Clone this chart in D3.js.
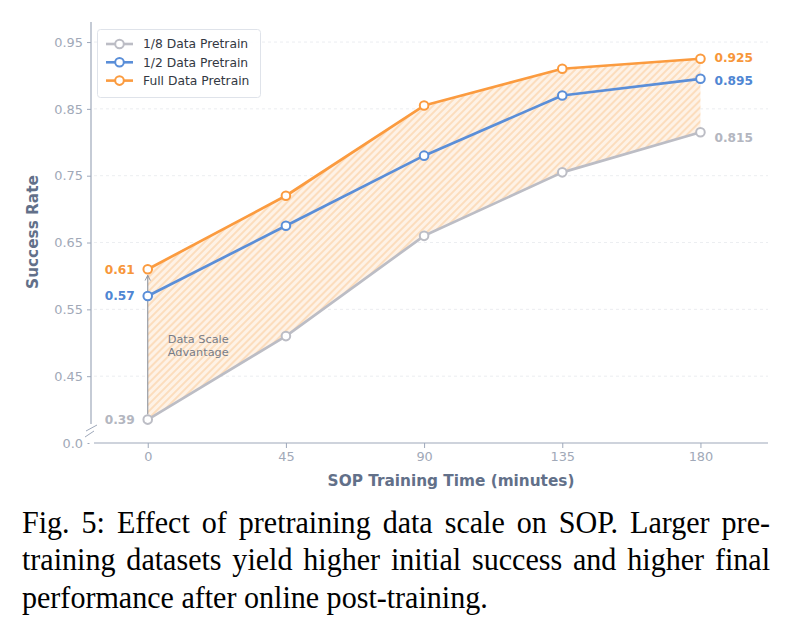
<!DOCTYPE html>
<html>
<head>
<meta charset="utf-8">
<script src="https://cdn.jsdelivr.net/npm/d3@7"></script>
<style>
  html, body { margin: 0; padding: 0; background: #ffffff; }
  svg { display: block; }
</style>
</head>
<body>
<svg id="chart" width="789" height="629"></svg>
<script>
// ---------------- data ----------------
const minutes = [0, 45, 90, 135, 180];
const eighthData = [0.385, 0.51, 0.66, 0.755, 0.815];
const halfData = [0.57, 0.675, 0.78, 0.87, 0.895];
const fullData = [0.61, 0.72, 0.855, 0.91, 0.925];
const seriesNames = ["1/8 Data Pretrain", "1/2 Data Pretrain", "Full Data Pretrain"];
const xTickValues = [0, 45, 90, 135, 180];
const yTickValues = [0.45, 0.55, 0.65, 0.75, 0.85, 0.95];
const yBreakLabel = "0.0";
const xTitle = "SOP Training Time (minutes)";
const yTitle = "Success Rate";
const annotationLines = ["Data Scale", "Advantage"];
const captionLines = [
  "Fig. 5: Effect of pretraining data scale on SOP. Larger pre-",
  "training datasets yield higher initial success and higher final",
  "performance after online post-training."
];

(function () {
// ---------------- styles ----------------
const colors = ["#bcbdc5", "#5a8ed8", "#fb9b3f"];
const labelColors = ["#b3b6c0", "#4f86d3", "#f7963a"];
const axisColor = "#9ea8ba";
const tickTextColor = "#a1a9b8";
const titleColor = "#627089";
const sansFont = "'DejaVu Sans', sans-serif";

const svg = d3.select("#chart");
const pLeft = 94, pRight = 768, pTop = 22, pBottom = 443;

const x = d3.scaleLinear().domain([-17.5, 202]).range([pLeft, pRight]);
const y = d3.scaleLinear().domain([0.35, 0.98]).range([pBottom, pTop]);

// hatch pattern
const defs = svg.append("defs");
const pat = defs.append("pattern")
  .attr("id", "hatch").attr("patternUnits", "userSpaceOnUse")
  .attr("width", 5).attr("height", 5)
  .attr("patternTransform", "rotate(45)");
pat.append("rect").attr("width", 5).attr("height", 5).attr("fill", "#fef2e6");
pat.append("line").attr("x1", 1).attr("y1", 0).attr("x2", 1).attr("y2", 5)
  .attr("stroke", "#fcd8b3").attr("stroke-width", 1.6);

defs.append("marker").attr("id", "arrow")
  .attr("viewBox", "0 0 10 10").attr("refX", 9).attr("refY", 5)
  .attr("markerWidth", 6).attr("markerHeight", 6).attr("orient", "auto")
  .append("path").attr("d", "M1,1 L9,5 L1,9").attr("fill", "none")
  .attr("stroke", "#8d939f").attr("stroke-width", 1.4);

// grid
svg.append("g").selectAll("line").data(yTickValues).join("line")
  .attr("x1", pLeft).attr("x2", pRight)
  .attr("y1", d => y(d)).attr("y2", d => y(d))
  .attr("stroke", "#e6e8ec").attr("stroke-width", 0.8)
  .attr("stroke-dasharray", "3,3");

// area between full and 1/8
const rows = minutes.map((m, i) => ({ m, lo: eighthData[i], hi: fullData[i] }));
svg.append("path").datum(rows)
  .attr("d", d3.area().x(d => x(d.m)).y0(d => y(d.lo)).y1(d => y(d.hi)))
  .attr("fill", "url(#hatch)");

// y axis
const yAxis = d3.axisLeft(y)
  .tickValues([0.35].concat(yTickValues))
  .tickFormat(d => d === 0.35 ? yBreakLabel : String(d))
  .tickSize(4).tickPadding(4);
const gy = svg.append("g").attr("transform", `translate(${pLeft - 3},0)`).call(yAxis);
gy.select(".domain").remove();
gy.selectAll(".tick line").attr("stroke", axisColor).attr("stroke-width", 1);
gy.selectAll(".tick").filter(d => d === 0.35).select("line").attr("x2", -1.5).attr("x1", -3.5);
gy.selectAll(".tick text").attr("fill", tickTextColor)
  .style("font-family", sansFont).style("font-size", "12.9px");
svg.append("line").attr("x1", pLeft - 3).attr("x2", pLeft - 3)
  .attr("y1", pTop).attr("y2", y(0.35) - 19)
  .attr("stroke", axisColor).attr("stroke-width", 1.2);
// break marks
[[0, 0], [-1, 6]].forEach(([dx, dy]) => {
  svg.append("line")
    .attr("x1", pLeft - 8 + dx).attr("y1", y(0.35) - 12 + dy)
    .attr("x2", pLeft + 3 + dx * 3).attr("y2", y(0.35) - 18 + dy)
    .attr("stroke", axisColor).attr("stroke-width", 1);
});

// x axis
const xAxis = d3.axisBottom(x).tickValues(xTickValues).tickSize(5).tickPadding(4);
const gx = svg.append("g").attr("transform", `translate(0,${pBottom})`).call(xAxis);
gx.select(".domain").attr("stroke", axisColor).attr("stroke-width", 1.2)
  .attr("d", `M${pLeft},0H${pRight}`);
gx.selectAll(".tick line").attr("stroke", axisColor);
gx.selectAll(".tick text").attr("fill", tickTextColor)
  .style("font-family", sansFont).style("font-size", "12.9px");

// axis titles
svg.append("text").attr("x", 451).attr("y", 486).attr("text-anchor", "middle")
  .attr("fill", titleColor).style("font-family", sansFont)
  .style("font-size", "15.3px").style("font-weight", "bold").text(xTitle);
svg.append("text").attr("transform", "translate(38,232) rotate(-90)")
  .attr("text-anchor", "middle").attr("fill", titleColor)
  .style("font-family", sansFont).style("font-size", "15.3px")
  .style("font-weight", "bold").text(yTitle);

// annotation arrow
svg.append("line")
  .attr("x1", x(0)).attr("x2", x(0))
  .attr("y1", y(eighthData[0]) - 5).attr("y2", y(fullData[0]) + 6)
  .attr("stroke", "#8d939f").attr("stroke-width", 1.1)
  .attr("marker-end", "url(#arrow)");
svg.append("g").selectAll("text").data(annotationLines).join("text")
  .attr("x", x(0) + 20).attr("y", (d, i) => 342.5 + i * 13)
  .attr("fill", "#777c88").style("font-family", sansFont).style("font-size", "11.3px")
  .text(d => d);

// series
const allSeries = [eighthData, halfData, fullData];
const line = d3.line().x((d, i) => x(minutes[i])).y(d => y(d));
allSeries.forEach((s, k) => {
  svg.append("path").datum(s).attr("d", line)
    .attr("fill", "none").attr("stroke", colors[k]).attr("stroke-width", 2.7)
    .attr("stroke-linejoin", "round");
  svg.append("g").selectAll("circle").data(s).join("circle")
    .attr("cx", (d, i) => x(minutes[i])).attr("cy", d => y(d)).attr("r", 4.3)
    .attr("fill", "#ffffff").attr("stroke", colors[k]).attr("stroke-width", 2);
});

// value labels
const endOffsets = [5.5, 1.5, -1.5];
allSeries.forEach((s, k) => {
  svg.append("text").attr("x", x(minutes[0]) - 13).attr("y", y(s[0]))
    .attr("dy", "0.36em").attr("text-anchor", "end").attr("fill", labelColors[k])
    .style("font-family", sansFont).style("font-size", "12.2px").style("font-weight", "bold")
    .text(d3.format(".2f")(s[0]));
  const n = s.length - 1;
  svg.append("text").attr("x", x(minutes[n]) + 14).attr("y", y(s[n]) + endOffsets[k])
    .attr("dy", "0.36em").attr("fill", labelColors[k])
    .style("font-family", sansFont).style("font-size", "12.2px").style("font-weight", "bold")
    .text(d3.format(".3f")(s[n]));
});

// legend
const lg = svg.append("g");
lg.append("rect").attr("x", 97.5).attr("y", 29.5).attr("width", 163).attr("height", 68)
  .attr("rx", 3).attr("fill", "#ffffff").attr("fill-opacity", 0.9)
  .attr("stroke", "#dfe3ea").attr("stroke-width", 1);
seriesNames.forEach((name, k) => {
  const yy = 44 + k * 18.3;
  lg.append("line").attr("x1", 106).attr("x2", 133).attr("y1", yy).attr("y2", yy)
    .attr("stroke", colors[k]).attr("stroke-width", 2.6);
  lg.append("circle").attr("cx", 119.5).attr("cy", yy).attr("r", 4.3)
    .attr("fill", "#ffffff").attr("stroke", colors[k]).attr("stroke-width", 2);
  lg.append("text").attr("x", 143).attr("y", yy).attr("dy", "0.36em")
    .attr("fill", "#333842").style("font-family", sansFont).style("font-size", "12.3px")
    .text(name);
});

// caption (justified, slightly condensed serif)
const capX0 = 22, capX1 = 770, lastLineWidth = 466;
const capG = svg.append("g")
  .style("font-family", "'Liberation Serif', 'Times New Roman', serif")
  .style("font-size", "32.5px").attr("fill", "#000000");
const probe = capG.append("text").text(captionLines[captionLines.length - 1]);
const sx = lastLineWidth / probe.node().getComputedTextLength();
probe.remove();
capG.attr("transform", `scale(${sx},1)`);
captionLines.forEach((ln, i) => {
  const baseline = 533 + i * 37.5;
  if (i === captionLines.length - 1) {
    capG.append("text").attr("x", capX0 / sx).attr("y", baseline).text(ln);
    return;
  }
  const words = ln.split(" ");
  const nodes = words.map(w => capG.append("text").attr("y", baseline).text(w));
  const widths = nodes.map(n => n.node().getComputedTextLength() * sx);
  const gap = (capX1 - capX0 - d3.sum(widths)) / (words.length - 1);
  let cx = capX0;
  nodes.forEach((n, j) => { n.attr("x", cx / sx); cx += widths[j] + gap; });
});
})();
</script>
</body>
</html>
